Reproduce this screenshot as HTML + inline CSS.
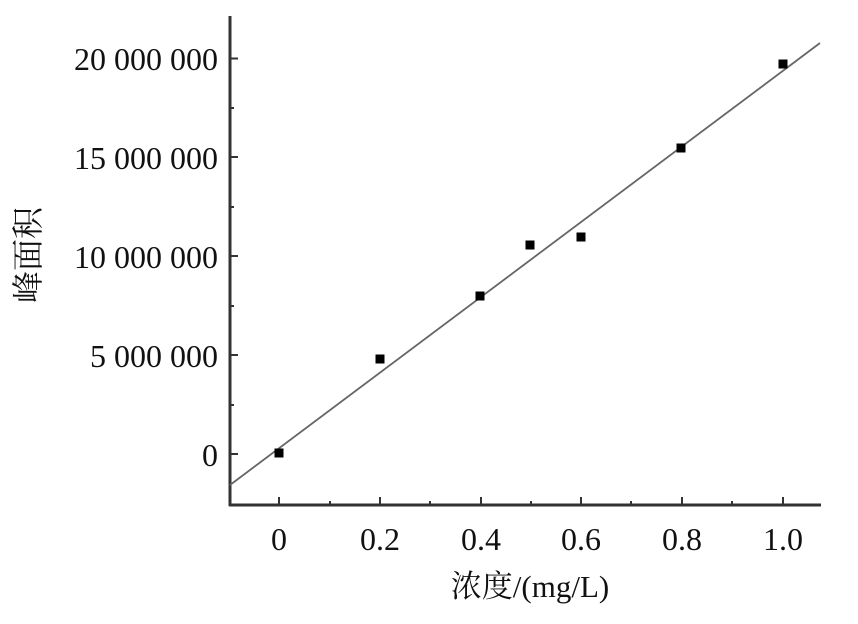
<!DOCTYPE html>
<html><head><meta charset="utf-8"><style>
html,body{margin:0;padding:0;background:#fff;}
svg{display:block;}
text{font-family:"Liberation Serif","Noto Serif CJK SC",serif;fill:#111;}
</style></head><body>
<svg width="858" height="624" viewBox="0 0 858 624">
<g stroke="#333" stroke-width="3" fill="none">
<line x1="230" y1="16" x2="230" y2="506"/>
<line x1="229" y1="505" x2="821" y2="505"/>
</g>
<g stroke="#333" stroke-width="2">
<line x1="230" y1="58.5" x2="238" y2="58.5"/>
<line x1="230" y1="157" x2="238" y2="157"/>
<line x1="230" y1="256" x2="238" y2="256"/>
<line x1="230" y1="355" x2="238" y2="355"/>
<line x1="230" y1="454" x2="238" y2="454"/>
<line x1="230" y1="108" x2="234" y2="108"/>
<line x1="230" y1="207" x2="234" y2="207"/>
<line x1="230" y1="306" x2="234" y2="306"/>
<line x1="230" y1="405" x2="234" y2="405"/>
<line x1="279" y1="505" x2="279" y2="497"/>
<line x1="380" y1="505" x2="380" y2="497"/>
<line x1="481" y1="505" x2="481" y2="497"/>
<line x1="581" y1="505" x2="581" y2="497"/>
<line x1="682" y1="505" x2="682" y2="497"/>
<line x1="783" y1="505" x2="783" y2="497"/>
<line x1="330" y1="505" x2="330" y2="501"/>
<line x1="430" y1="505" x2="430" y2="501"/>
<line x1="531" y1="505" x2="531" y2="501"/>
<line x1="631" y1="505" x2="631" y2="501"/>
<line x1="732" y1="505" x2="732" y2="501"/>
</g>
<line x1="230" y1="485" x2="820" y2="43" stroke="#666" stroke-width="1.8"/>
<g fill="#000">
<rect x="274.5" y="448.5" width="9" height="9"/>
<rect x="375.5" y="354.5" width="9" height="9"/>
<rect x="475.5" y="291.5" width="9" height="9"/>
<rect x="525.5" y="240.5" width="9" height="9"/>
<rect x="576.5" y="232.5" width="9" height="9"/>
<rect x="676.5" y="143.5" width="9" height="9"/>
<rect x="778.5" y="59.5" width="9" height="9"/>
</g>
<g font-size="32" text-anchor="end">
<text x="218" y="70">20 000 000</text>
<text x="218" y="169">15 000 000</text>
<text x="218" y="268">10 000 000</text>
<text x="218" y="367">5 000 000</text>
<text x="218" y="466">0</text>
</g>
<g font-size="32" text-anchor="middle">
<text x="279" y="550">0</text>
<text x="380" y="550">0.2</text>
<text x="481" y="550">0.4</text>
<text x="581" y="550">0.6</text>
<text x="682" y="550">0.8</text>
<text x="783" y="550">1.0</text>
</g>
<text x="530" y="597" font-size="31" text-anchor="middle">浓度/(mg/L)</text>
<text transform="translate(39,255) rotate(-90)" font-size="32" text-anchor="middle">峰面积</text>
</svg>
</body></html>
